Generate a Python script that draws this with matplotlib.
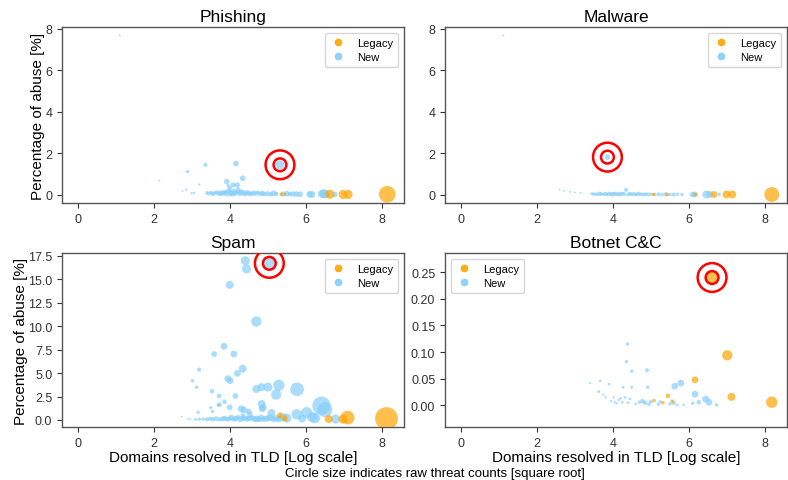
import numpy as np
import matplotlib
matplotlib.use("Agg")
import matplotlib.pyplot as plt
from matplotlib.lines import Line2D

plt.rcParams['font.family'] = ['Liberation Sans', 'DejaVu Sans']

# ---------------- data ----------------
panel_titles = ["Phishing", "Malware", "Spam", "Botnet C&C"]
series_labels = ["Legacy", "New"]
x_label = "Domains resolved in TLD [Log scale]"
y_label = "Percentage of abuse [%]"
footnote = "Circle size indicates raw threat counts [square root]"

# Phishing
phish_new_x = [1.11, 2.15, 2.76, 2.86, 2.89, 3.00, 3.06, 3.20, 3.36, 3.92, 3.96, 4.09, 4.20, 4.00, 4.16, 4.34, 5.32,
               3.40, 3.45, 3.50, 3.55, 3.60, 3.65, 3.70, 3.74, 3.78, 3.82,
               3.86, 3.90, 3.94, 3.98, 4.02, 4.06, 4.10, 4.14, 4.18, 4.22,
               4.26, 4.30, 4.35, 4.40, 4.45, 4.50, 4.56, 4.62, 4.68, 4.74,
               4.80, 4.86, 4.92, 5.00, 5.08, 5.15, 5.22, 5.40, 5.50, 5.58,
               5.66, 5.75, 5.85,
               6.10, 6.16, 6.42, 6.48, 6.53, 6.76]
phish_new_y = [7.68, 0.69, 0.18, 0.25, 1.12, 0.08, 0.10, 0.50, 1.45, 0.64, 0.45, 0.48, 0.48, 0.32, 1.51, 0.80, 1.45,
               0.10, 0.06, 0.12, 0.05, 0.08, 0.14, 0.06, 0.10, 0.04, 0.12,
               0.08, 0.15, 0.06, 0.20, 0.10, 0.05, 0.18, 0.08, 0.12, 0.22,
               0.06, 0.15, 0.10, 0.05, 0.12, 0.08, 0.04, 0.10, 0.06, 0.12,
               0.05, 0.08, 0.04, 0.06, 0.03, 0.08, 0.05, 0.04, 0.06, 0.03,
               0.05, 0.04, 0.03,
               0.03, 0.02, 0.05, 0.06, 0.03, 0.02]
phish_new_sz = [0.8, 0.8, 0.8, 1.0, 1.5, 1.0, 1.0, 1.0, 1.8, 2.5, 1.5, 2.3, 2.3, 2.0, 2.5, 2.5, 4.0,
                1.5, 1.8, 1.5, 2.0, 1.8, 1.5, 2.0, 2.2, 1.8, 2.0,
                2.2, 1.8, 2.5, 2.0, 2.2, 2.5, 2.0, 2.3, 2.0, 2.5,
                2.2, 2.0, 2.5, 2.2, 2.0, 2.3, 2.0, 2.2, 2.0, 1.8,
                2.0, 2.2, 2.0, 2.2, 2.0, 2.5, 2.0, 2.3, 2.5, 2.0,
                2.3, 2.5, 2.5,
                3.0, 3.0, 3.5, 4.0, 3.5, 2.5]
phish_leg_x = [5.35, 5.45, 6.63, 6.98, 7.11, 8.14]
phish_leg_y = [0.03, 0.03, 0.03, 0.02, 0.02, 0.03]
phish_leg_sz = [1.5, 1.3, 4.0, 4.0, 4.0, 7.3]

# Malware
mal_new_x = [1.12, 2.60, 2.72, 2.87, 3.00, 3.15, 3.86, 4.35,
             3.45, 3.50, 3.55, 3.60, 3.65, 3.70, 3.75, 3.80, 3.85, 3.90,
             3.95, 4.00, 4.05, 4.10, 4.15, 4.20, 4.25, 4.30, 4.40, 4.45,
             4.50, 4.56, 4.62, 4.68, 4.74, 4.80, 4.86, 4.92, 5.00, 5.10,
             5.20, 5.30, 5.40, 5.50, 5.60, 5.70, 5.82,
             6.10, 6.16, 6.46, 6.55, 6.80]
mal_new_y = [7.68, 0.26, 0.20, 0.15, 0.12, 0.10, 1.82, 0.24,
             0.06, 0.03, 0.05, 0.02, 0.06, 0.04, 0.03, 0.05, 0.02, 0.06,
             0.04, 0.03, 0.06, 0.02, 0.05, 0.03, 0.06, 0.04, 0.02, 0.05,
             0.03, 0.04, 0.02, 0.05, 0.03, 0.02, 0.04, 0.02, 0.03, 0.02,
             0.03, 0.02, 0.03, 0.02, 0.02, 0.03, 0.02,
             0.02, 0.02, 0.02, 0.02, 0.02]
mal_new_sz = [0.8, 0.8, 0.8, 0.8, 0.8, 0.8, 2.5, 1.8,
              1.3, 1.5, 1.3, 1.5, 1.8, 1.5, 1.3, 1.8, 1.5, 1.8,
              1.5, 2.0, 1.8, 1.5, 2.0, 1.8, 1.5, 1.8, 1.5, 1.8,
              1.5, 1.8, 1.5, 2.0, 1.5, 1.8, 1.5, 1.8, 1.5, 1.5,
              1.8, 1.5, 2.0, 1.5, 1.8, 1.5, 1.5,
              2.5, 2.5, 3.5, 3.0, 1.5]
mal_leg_x = [5.07, 5.43, 6.18, 6.66, 6.99, 7.14, 8.18]
mal_leg_y = [0.02, 0.02, 0.02, 0.02, 0.02, 0.02, 0.02]
mal_leg_sz = [1.5, 1.5, 1.5, 3.0, 3.5, 3.5, 6.5]

# Spam
spam_new_x = [4.41, 4.44, 5.04, 4.00, 4.70, 3.85, 3.59, 4.11, 4.34, 4.20,
              3.19, 3.95, 4.01, 3.02, 3.13, 3.53, 3.72, 4.15, 3.86, 3.70,
              4.00, 3.50, 4.70, 4.83, 5.00, 5.29, 5.22, 5.77, 4.84, 4.85,
              4.30, 4.37, 4.34, 4.53, 5.10, 6.41, 6.50, 6.02, 5.76, 6.17,
              6.24, 6.78, 5.50, 3.17, 3.55, 3.73, 4.50, 4.88, 2.73, 2.90,
              2.96, 5.90, 5.40,
              3.10, 3.20, 3.30, 3.40, 3.48, 3.56, 3.64, 3.72, 3.80, 3.86,
              3.92, 3.98, 4.04, 4.10, 4.16, 4.22, 4.28, 4.34, 4.40, 4.46,
              4.52, 4.58, 4.64, 4.70, 4.76, 4.82, 4.90, 4.98, 5.06, 5.14,
              5.22, 5.30]
spam_new_y = [16.97, 16.10, 16.70, 14.40, 10.50, 7.85, 7.03, 7.03, 5.47, 4.97,
              5.36, 4.40, 4.19, 4.19, 3.48, 3.06, 2.56, 2.56, 1.95, 1.60,
              1.35, 1.30, 3.30, 3.50, 3.50, 3.70, 2.70, 3.27, 1.70, 1.20,
              1.20, 1.06, 0.46, 0.55, 0.75, 1.53, 1.10, 0.77, 0.60, 0.30,
              0.20, 0.10, 0.20, 0.82, 0.90, 1.63, 0.90, 1.35, 0.35, 0.10,
              0.10, 0.15, 0.30,
              0.05, 0.08, 0.10, 0.06, 0.12, 0.08, 0.15, 0.06, 0.10, 0.20,
              0.08, 0.12, 0.25, 0.10, 0.15, 0.30, 0.08, 0.12, 0.20, 0.10,
              0.15, 0.25, 0.10, 0.12, 0.08, 0.20, 0.10, 0.15, 0.25, 0.10,
              0.15, 0.10]
spam_new_sz = [4.0, 4.0, 5.0, 3.5, 4.5, 3.0, 2.5, 3.0, 3.5, 3.0,
               1.8, 3.0, 3.0, 1.5, 1.5, 2.0, 2.0, 2.5, 2.0, 1.5,
               2.5, 1.5, 3.5, 3.5, 4.0, 5.0, 4.5, 6.0, 3.5, 3.0,
               3.0, 3.0, 2.0, 2.5, 3.5, 8.0, 6.5, 5.0, 4.5, 4.5,
               4.5, 4.0, 4.0, 1.5, 1.5, 2.0, 2.5, 3.0, 0.8, 0.8,
               0.8, 3.5, 3.5,
               1.3, 1.5, 1.5, 1.8, 1.8, 2.0, 2.0, 1.8, 2.2, 2.0,
               2.2, 2.0, 2.5, 2.2, 2.5, 2.0, 2.5, 2.2, 2.5, 2.3,
               2.5, 2.2, 2.5, 2.8, 2.5, 3.0, 2.5, 2.8, 3.0, 2.5,
               3.0, 2.8]
spam_leg_x = [5.32, 5.45, 6.60, 6.98, 7.10, 8.12]
spam_leg_y = [0.50, 0.15, 0.10, 0.10, 0.25, 0.15]
spam_leg_sz = [2.5, 2.5, 3.5, 4.0, 6.0, 10.0]

# Botnet C&C
bot_new_x = [4.39, 4.36, 4.50, 4.90, 4.92, 4.50, 4.27, 3.90, 3.67, 3.40,
             3.63, 3.81, 4.02, 4.20, 4.32, 4.45, 5.63, 5.79, 6.16, 6.44,
             6.53, 6.26, 6.73, 6.10, 5.86, 5.70, 5.50, 5.60, 3.95, 4.05,
             4.10, 4.60, 4.70, 4.78, 4.85, 4.95, 5.00, 5.20, 5.25, 4.40,
             4.25, 3.75, 4.15]
bot_new_y = [0.115, 0.082, 0.064, 0.066, 0.034, 0.034, 0.034, 0.040, 0.046, 0.042,
             0.026, 0.015, 0.015, 0.013, 0.015, 0.012, 0.036, 0.042, 0.021, 0.012,
             0.006, 0.006, 0.001, 0.004, 0.001, 0.001, 0.003, 0.005, 0.008, 0.006,
             0.004, 0.003, 0.006, 0.008, 0.005, 0.002, 0.007, 0.002, 0.007, 0.005,
             0.006, 0.020, 0.010]
bot_new_sz = [1.5, 1.5, 1.5, 1.8, 1.5, 1.3, 1.3, 1.2, 1.2, 1.0,
              1.3, 1.0, 1.0, 1.2, 1.2, 1.2, 3.0, 3.0, 3.0, 3.0,
              3.0, 2.0, 1.5, 1.5, 1.2, 1.2, 1.5, 2.0, 1.0, 1.0,
              1.0, 1.2, 1.5, 2.0, 2.0, 1.5, 1.8, 1.5, 1.5, 1.2,
              1.2, 1.0, 1.0]
bot_leg_x = [5.09, 5.32, 5.45, 5.56, 6.16, 6.61, 7.01, 7.12, 8.18]
bot_leg_y = [0.009, 0.005, 0.018, 0.008, 0.048, 0.240, 0.094, 0.016, 0.006]
bot_leg_sz = [1.5, 1.5, 2.0, 1.5, 3.0, 5.0, 4.5, 3.5, 5.0]

# highlighted TLD in each panel: (series, index)
highlights = [("new", 16), ("new", 6), ("new", 2), ("legacy", 5)]

panels = [
    (phish_new_x, phish_new_y, phish_new_sz, phish_leg_x, phish_leg_y, phish_leg_sz),
    (mal_new_x, mal_new_y, mal_new_sz, mal_leg_x, mal_leg_y, mal_leg_sz),
    (spam_new_x, spam_new_y, spam_new_sz, spam_leg_x, spam_leg_y, spam_leg_sz),
    (bot_new_x, bot_new_y, bot_new_sz, bot_leg_x, bot_leg_y, bot_leg_sz),
]

# ---------------- style ----------------
C_LEG = "#FFA500"
C_NEW = "#87CEFA"
ALPHA = 0.7
SIZE_K = 2.7  # marker area per unit^2

ylims = [(-0.39, 8.09), (-0.39, 8.09), (-0.75, 17.8), (-0.0405, 0.286)]
yticks = [[0, 2, 4, 6, 8], [0, 2, 4, 6, 8],
          [0, 2.5, 5, 7.5, 10, 12.5, 15, 17.5],
          [0, 0.05, 0.10, 0.15, 0.20, 0.25]]
yfmt = ["{:.0f}", "{:.0f}", "{:.1f}", "{:.2f}"]
legend_loc = ["upper right", "upper right", "upper right", "upper left"]

W, H = 788, 481
fig = plt.figure(figsize=(W / 100, H / 100), dpi=100)
boxes = [(62, 28, 404, 204), (445, 28, 787, 204), (62, 254, 404, 428), (445, 254, 787, 428)]

for i, (box, data) in enumerate(zip(boxes, panels)):
    l, t, r, b = box
    ax = fig.add_axes([l / W, 1 - b / H, (r - l) / W, (b - t) / H])
    nx, ny, ns, lx, ly, ls = [np.asarray(a, dtype=float) for a in data]
    ax.scatter(lx, ly, s=SIZE_K * ls ** 2, color=C_LEG, alpha=ALPHA, linewidths=0, zorder=3)
    ax.scatter(nx, ny, s=SIZE_K * ns ** 2, color=C_NEW, alpha=ALPHA, linewidths=0, zorder=2)
    kind, idx = highlights[i]
    hx, hy = (lx[idx], ly[idx]) if kind == "legacy" else (nx[idx], ny[idx])
    for ring in (85, 430):
        ax.scatter([hx], [hy], s=ring, facecolors="none", edgecolors="red", linewidths=1.8, zorder=5)
    ax.set_xlim(-0.41, 8.58)
    ax.set_ylim(*ylims[i])
    ax.set_xticks([0, 2, 4, 6, 8])
    ax.set_yticks(yticks[i])
    ax.set_yticklabels([yfmt[i].format(v) for v in yticks[i]])
    ax.tick_params(labelsize=9, colors="#333333", length=3.5, width=0.8)
    for sp in ax.spines.values():
        sp.set_color("#555555")
        sp.set_linewidth(1.0)
    ax.set_title(panel_titles[i], fontsize=12.5, pad=4)
    if i in (0, 2):
        ax.set_ylabel(y_label, fontsize=11, labelpad=0)
    if i in (2, 3):
        ax.set_xlabel(x_label, fontsize=11, labelpad=1)
    handles = [Line2D([], [], marker="o", linestyle="", color=C_LEG, markersize=4.5, alpha=0.9),
               Line2D([], [], marker="o", linestyle="", color=C_NEW, markersize=4.5, alpha=0.9)]
    ax.legend(handles, series_labels, loc=legend_loc[i], fontsize=8, frameon=True,
              handletextpad=0.9, borderpad=0.45, labelspacing=0.4, handlelength=1.6,
              borderaxespad=0.5)

fig.text(435 / W, 1 - 474 / H, footnote, ha="center", va="center", fontsize=9.5)
fig.savefig("out.png", dpi=100)
